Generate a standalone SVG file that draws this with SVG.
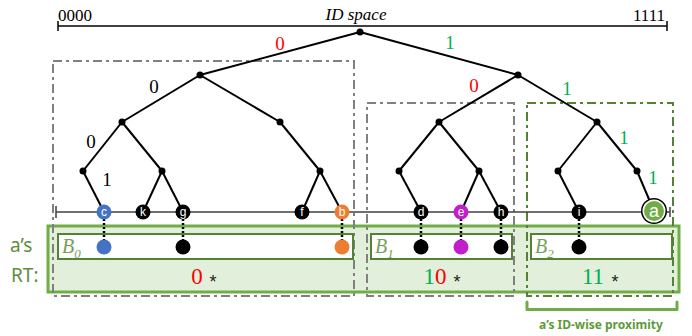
<svg xmlns="http://www.w3.org/2000/svg" width="692" height="336" viewBox="0 0 692 336">
<style>
.edge{stroke:#000;stroke-width:2;fill:none}
.dot{fill:#000}
.serif{font-family:"Liberation Serif","DejaVu Serif",serif}
.lbl{font-family:"Liberation Serif","DejaVu Serif",serif;font-size:19px;text-anchor:middle}
.red{fill:#ff0000}
.grn{fill:#00b050}
.blk{fill:#000}
.leaf{font-family:"Liberation Sans",sans-serif;font-size:12px;fill:#fff;text-anchor:middle}
.dd{fill:none;stroke-width:2;stroke-dasharray:9 4 3 4}
.conn{stroke:#000;stroke-width:2.5;stroke-dasharray:2 2}
.inner{fill:#fff;stroke:#548235;stroke-width:2}
.bl{font-family:"Liberation Serif","DejaVu Serif",serif;font-style:italic;font-size:20px;fill:#76a05a}
.bs{font-size:13px}
.num{font-family:"Liberation Serif","DejaVu Serif",serif;font-size:23px;text-anchor:middle}
.star{font-family:"Liberation Sans",sans-serif;font-size:18px;fill:#222;text-anchor:middle}
.side{font-family:"Noto Sans",sans-serif;font-size:19px;fill:#5f8d3f}
</style>

<g id="id-space">
  <line x1="58" y1="26" x2="667" y2="26" stroke="#000" stroke-width="1.5"/>
  <line x1="58" y1="21" x2="58" y2="31" stroke="#000" stroke-width="1.5"/>
  <line x1="667" y1="21" x2="667" y2="31" stroke="#000" stroke-width="1.5"/>
  <text class="serif" x="58" y="21" font-size="17">0000</text>
  <text class="serif" x="356" y="20" font-size="17" font-style="italic" text-anchor="middle">ID space</text>
  <text class="serif" x="665" y="21" font-size="17" text-anchor="end">1111</text>
</g>

<g id="rt-table">
  <rect x="48" y="226" width="631" height="66" fill="#e2efda" stroke="#70ad47" stroke-width="3"/>
</g>

<g id="bucket-frames">
  <rect class="dd" x="53" y="61" width="301" height="235" stroke="#808080"/>
  <rect class="dd" x="367" y="103" width="147" height="193" stroke="#808080"/>
  <rect class="dd" x="527" y="103" width="146" height="193" stroke="#548235"/>
</g>

<g id="B0">
  <rect class="inner" x="58" y="234" width="295" height="25"/>
  <text class="bl" x="62" y="253">B<tspan class="bs" dy="5">0</tspan></text>
</g>
<g id="B1">
  <rect class="inner" x="371" y="234" width="141" height="25"/>
  <text class="bl" x="375" y="253">B<tspan class="bs" dy="5">1</tspan></text>
</g>
<g id="B2">
  <rect class="inner" x="531" y="234" width="141" height="25"/>
  <text class="bl" x="535" y="253">B<tspan class="bs" dy="5">2</tspan></text>
</g>

<g id="prefixes">
  <text class="num red" x="197" y="284">0</text>
  <text class="star" x="213" y="288">*</text>
  <text class="num" x="435" y="284"><tspan class="grn">1</tspan><tspan class="red">0</tspan></text>
  <text class="star" x="457" y="288">*</text>
  <text class="num grn" x="593" y="284">11</text>
  <text class="star" x="615" y="288">*</text>
</g>

<g id="rt-label">
  <text class="side" x="10" y="252">a’s</text>
  <text class="side" x="11" y="282">RT:</text>
</g>

<g id="connectors">
  <line class="edge" x1="360" y1="32" x2="200" y2="75"/>
  <line class="edge" x1="360" y1="32" x2="518" y2="75"/>
  <line class="edge" x1="200" y1="75" x2="122" y2="122"/>
  <line class="edge" x1="200" y1="75" x2="280" y2="122"/>
  <line class="edge" x1="122" y1="122" x2="83" y2="171"/>
  <line class="edge" x1="122" y1="122" x2="162" y2="171"/>
  <line class="edge" x1="83" y1="171" x2="104" y2="212"/>
  <line class="edge" x1="162" y1="171" x2="143" y2="212"/>
  <line class="edge" x1="162" y1="171" x2="183" y2="212"/>
  <line class="edge" x1="280" y1="122" x2="320" y2="171"/>
  <line class="edge" x1="320" y1="171" x2="302" y2="212"/>
  <line class="edge" x1="320" y1="171" x2="342" y2="212"/>
  <line class="edge" x1="518" y1="75" x2="439" y2="122"/>
  <line class="edge" x1="518" y1="75" x2="597" y2="122"/>
  <line class="edge" x1="439" y1="122" x2="399" y2="171"/>
  <line class="edge" x1="439" y1="122" x2="479" y2="171"/>
  <line class="edge" x1="399" y1="171" x2="421" y2="212"/>
  <line class="edge" x1="479" y1="171" x2="461" y2="212"/>
  <line class="edge" x1="479" y1="171" x2="501" y2="212"/>
  <line class="edge" x1="597" y1="122" x2="558" y2="171"/>
  <line class="edge" x1="597" y1="122" x2="637" y2="171"/>
  <line class="edge" x1="558" y1="171" x2="579" y2="212"/>
  <line class="edge" x1="637" y1="171" x2="654" y2="211"/>
  <line class="conn" x1="104" y1="219" x2="104" y2="240"/>
  <line class="conn" x1="183" y1="219" x2="183" y2="240"/>
  <line class="conn" x1="342" y1="219" x2="342" y2="240"/>
  <line class="conn" x1="421" y1="219" x2="421" y2="240"/>
  <line class="conn" x1="461" y1="219" x2="461" y2="240"/>
  <line class="conn" x1="501" y1="219" x2="501" y2="240"/>
  <line class="conn" x1="579" y1="219" x2="579" y2="240"/>
</g>

<g id="edge-labels">
  <text class="lbl red" x="280" y="50">0</text>
  <text class="lbl grn" x="450" y="49">1</text>
  <text class="lbl blk" x="154" y="93">0</text>
  <text class="lbl red" x="474" y="92">0</text>
  <text class="lbl grn" x="567" y="95">1</text>
  <text class="lbl blk" x="91" y="148">0</text>
  <text class="lbl blk" x="107" y="186">1</text>
  <text class="lbl grn" x="624" y="144">1</text>
  <text class="lbl grn" x="653" y="184">1</text>
</g>

<g id="inner-nodes">
  <circle class="dot" cx="360" cy="32" r="3.5"/>
  <circle class="dot" cx="200" cy="75" r="3.5"/>
  <circle class="dot" cx="518" cy="75" r="3.5"/>
  <circle class="dot" cx="122" cy="122" r="3.5"/>
  <circle class="dot" cx="280" cy="122" r="3.5"/>
  <circle class="dot" cx="439" cy="122" r="3.5"/>
  <circle class="dot" cx="597" cy="122" r="3.5"/>
  <circle class="dot" cx="83" cy="171" r="3.5"/>
  <circle class="dot" cx="162" cy="171" r="3.5"/>
  <circle class="dot" cx="320" cy="171" r="3.5"/>
  <circle class="dot" cx="399" cy="171" r="3.5"/>
  <circle class="dot" cx="479" cy="171" r="3.5"/>
  <circle class="dot" cx="558" cy="171" r="3.5"/>
  <circle class="dot" cx="637" cy="171" r="3.5"/>
</g>

<g id="leaf-line">
  <line x1="56" y1="212" x2="670" y2="212" stroke="#404040" stroke-width="1.5"/>
  <line x1="56" y1="206" x2="56" y2="218" stroke="#404040" stroke-width="1.5"/>
  <line x1="670" y1="207" x2="670" y2="217" stroke="#404040" stroke-width="1.5"/>
</g>

<g id="node-c"><circle cx="104" cy="212" r="7.5" fill="#4472c4"/><text class="leaf" x="104" y="216">c</text><circle cx="104" cy="247" r="7.5" fill="#4472c4"/></g>
<g id="node-k"><circle cx="143" cy="212" r="7.5" fill="#000"/><text class="leaf" x="143" y="216">k</text></g>
<g id="node-g"><circle cx="183" cy="212" r="7.5" fill="#000"/><text class="leaf" x="183" y="216">g</text><circle cx="183" cy="247" r="7.5" fill="#000"/></g>
<g id="node-f"><circle cx="302" cy="212" r="7.5" fill="#000"/><text class="leaf" x="302" y="216">f</text></g>
<g id="node-b"><circle cx="342" cy="212" r="7.5" fill="#ed7d31"/><text class="leaf" x="342" y="216">b</text><circle cx="342" cy="247" r="7.5" fill="#ed7d31"/></g>
<g id="node-d"><circle cx="421" cy="212" r="7.5" fill="#000"/><text class="leaf" x="421" y="216">d</text><circle cx="421" cy="247" r="7.5" fill="#000"/></g>
<g id="node-e"><circle cx="461" cy="212" r="7.5" fill="#c21fcc"/><text class="leaf" x="461" y="216">e</text><circle cx="461" cy="247" r="7.5" fill="#c21fcc"/></g>
<g id="node-h"><circle cx="501" cy="212" r="7.5" fill="#000"/><text class="leaf" x="501" y="216">h</text><circle cx="501" cy="247" r="7.5" fill="#000"/></g>
<g id="node-i"><circle cx="579" cy="212" r="7.5" fill="#000"/><text class="leaf" x="579" y="216">i</text><circle cx="579" cy="247" r="7.5" fill="#000"/></g>
<g id="node-a">
  <circle cx="654" cy="211" r="13" fill="#000"/>
  <circle cx="654" cy="211" r="11.5" fill="#fff"/>
  <circle cx="654" cy="211" r="10" fill="#70ad47"/>
  <text x="654" y="217" font-family="Liberation Sans,sans-serif" font-size="18" fill="#fff" text-anchor="middle">a</text>
</g>

<g id="proximity">
  <path d="M527 302 V309.5 H677 V302" fill="none" stroke="#70ad47" stroke-width="3" stroke-linejoin="round" stroke-linecap="round"/>
  <text x="601" y="329" font-family="Noto Sans,sans-serif" font-size="12" font-weight="bold" fill="#5f9a3a" text-anchor="middle">a’s ID-wise proximity</text>
</g>
</svg>
